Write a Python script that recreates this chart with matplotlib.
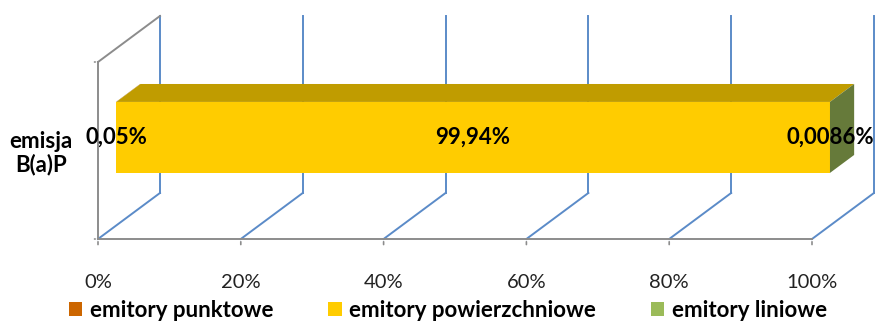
import numpy as np
import matplotlib.pyplot as plt
from matplotlib.patches import Polygon

# ---------------------------------------------------------------------------
# data
# ---------------------------------------------------------------------------
CATEGORY = "emisja\nB(a)P"
SERIES = ["emitory punktowe", "emitory powierzchniowe", "emitory liniowe"]
VALUES = [0.05, 99.94, 0.0086]
LABELS = ["0,05%", "99,94%", "0,0086%"]
TICKS = [0, 20, 40, 60, 80, 100]
TICK_LABELS = ["0%", "20%", "40%", "60%", "80%", "100%"]

# ---------------------------------------------------------------------------
# style
# ---------------------------------------------------------------------------
FRONT = ["#CC6600", "#FFCC00", "#9BBB59"]
TOP = ["#994C00", "#C09C00", "#748C43"]
SIDE = ["#8A4500", "#BF9B00", "#667A3A"]
GRID = "#5B8BC8"
AXIS = "#8C8C8C"

plt.rcParams['font.family'] = ['Lato', 'DejaVu Sans']

# oblique depth offset (data units) and bar placement inside depth / height
DX, DY = 8.68, 0.26
BAR_Z0, BAR_Z1 = 0.29, 0.68
BAR_Y0, BAR_Y1 = 0.298, 0.699


def proj(x, y, z):
    return x + z * DX, y + z * DY


fig = plt.figure(figsize=(8.75, 3.26), dpi=100)
ax = fig.add_axes([98 / 875, (326 - 239) / 326, 714 / 875, 177 / 326])
ax.set_xlim(0, 100)
ax.set_ylim(0, 1)
ax.axis("off")

# back wall + floor gridlines
for t in TICKS:
    bx, by = proj(t, 0, 1)
    tx, ty = proj(t, 1, 1)
    ax.plot([bx, tx], [by, ty], color=GRID, lw=1.4, zorder=1, clip_on=False)
    ax.plot([t, bx], [0, by], color=GRID, lw=1.4, zorder=1, clip_on=False)

# side wall outline
tx, ty = proj(0, 1, 1)
ax.plot([0, 0], [0, 1], color=AXIS, lw=1.4, zorder=1, clip_on=False)
ax.plot([0, tx], [1, ty], color=AXIS, lw=1.4, zorder=1, clip_on=False)

# front category axis ticks
for yy in (0, 1):
    ax.annotate("", xy=(0, yy), xytext=(-4.5, 0), textcoords="offset points",
                arrowprops=dict(arrowstyle="-", color=AXIS, lw=1.2))

# value axis
ax.plot([0, 100], [0, 0], color=AXIS, lw=1.4, zorder=2, clip_on=False)
for t, lab in zip(TICKS, TICK_LABELS):
    ax.annotate("", xy=(t, 0), xytext=(0, -6), textcoords="offset points",
                arrowprops=dict(arrowstyle="-", color=AXIS, lw=1.2))
    ax.annotate(lab, xy=(t, 0), xytext=(0, -31.5), textcoords="offset points",
                ha="center", va="center", fontsize=14.5, color="#222222")

# stacked 3D bar
cum = np.concatenate([[0], np.cumsum(VALUES)])
cum = cum / cum[-1] * 100
for i in range(len(VALUES)):
    x0, x1 = cum[i], cum[i + 1]
    f = [proj(x0, BAR_Y0, BAR_Z0), proj(x1, BAR_Y0, BAR_Z0),
         proj(x1, BAR_Y1, BAR_Z0), proj(x0, BAR_Y1, BAR_Z0)]
    top = [proj(x0, BAR_Y1, BAR_Z0), proj(x1, BAR_Y1, BAR_Z0),
           proj(x1, BAR_Y1, BAR_Z1), proj(x0, BAR_Y1, BAR_Z1)]
    ax.add_patch(Polygon(top, closed=True, fc=TOP[i], ec="none", zorder=5, clip_on=False))
    ax.add_patch(Polygon(f, closed=True, fc=FRONT[i], ec="none", zorder=5, clip_on=False))
# right end face
xe = cum[-1]
side = [proj(xe, BAR_Y0, BAR_Z0), proj(xe, BAR_Y0, BAR_Z1),
        proj(xe, BAR_Y1, BAR_Z1), proj(xe, BAR_Y1, BAR_Z0)]
ax.add_patch(Polygon(side, closed=True, fc=SIDE[-1], ec="none", zorder=5, clip_on=False))

# data labels
ymid = (BAR_Y0 + BAR_Y1) / 2
for i, lab in enumerate(LABELS):
    cx, cy = proj((cum[i] + cum[i + 1]) / 2, ymid, BAR_Z0)
    ax.text(cx, cy, lab, ha="center", va="center", fontsize=16,
            fontweight="bold", color="black", zorder=10)

# category label
cx, cy = proj(0, ymid, BAR_Z0)
ax.annotate(CATEGORY, xy=(0, cy), xytext=(-41, -11.5), textcoords="offset points",
            ha="center", va="center", fontsize=16, fontweight="bold",
            linespacing=1.1)

# legend
handles = [plt.Rectangle((0, 0), 1, 1, fc=c, ec="none") for c in FRONT]
fig.legend(handles, SERIES, loc="lower center", bbox_to_anchor=(0.512, -0.045),
           ncol=3, frameon=False, prop=dict(size=16, weight="bold"),
           handlelength=0.6, handleheight=0.6, handletextpad=0.35,
           columnspacing=2.45)

fig.savefig("out.png", dpi=100)
